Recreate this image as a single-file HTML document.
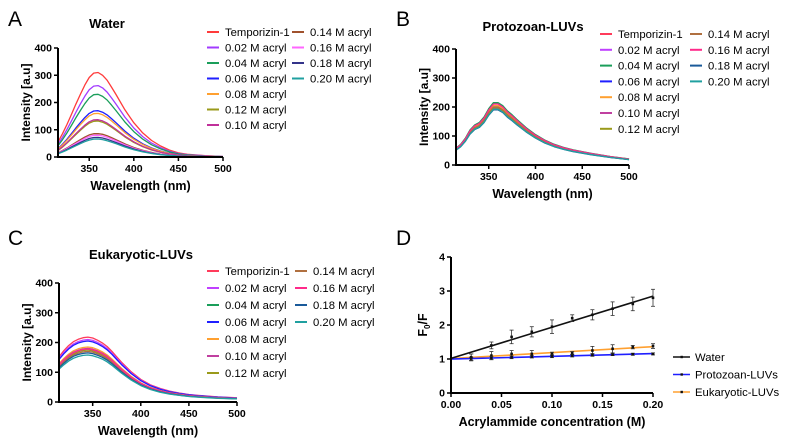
<!DOCTYPE html>
<html><head><meta charset="utf-8"><style>
body{margin:0;background:#fff;width:786px;height:446px;overflow:hidden}
svg{display:block;font-family:"Liberation Sans",Arial,sans-serif}
</style></head><body>
<svg id="s" width="786" height="446"></svg>
<script>
const wl=[315,320,325,330,335,340,345,350,355,360,365,370,375,380,390,400,410,420,430,440,450,460,480,500];
const shapeA=[55,85,118,155,192,228,262,290,306,308,298,280,255,228,172,125,88,60,40,25,15,10,5,2];
const shapeB=[55,68,88,115,132,140,158,185,205,205,195,178,165,150,123,100,82,68,58,50,44,38,28,20];
const shapeC=[150,170,187,200,208,213,215,212,205,196,184,168,150,132,100,75,57,45,36,30,25,22,17,14];
const names=["Temporizin-1","0.02 M acryl","0.04 M acryl","0.06 M acryl","0.08 M acryl","0.10 M acryl","0.12 M acryl","0.14 M acryl","0.16 M acryl","0.18 M acryl","0.20 M acryl"];
const namesA=["Temporizin-1","0.02 M acryl","0.04 M acryl","0.06 M acryl","0.08 M acryl","0.12 M acryl","0.10 M acryl","0.14 M acryl","0.16 M acryl","0.18 M acryl","0.20 M acryl"];
const colorsA=["#ff3b3b","#a23bff","#1a9e5a","#1f1fff","#ffa030","#9a9a1a","#c0309a","#a0522d","#ff66ff","#33338a","#20a0a0"];
const colorsB=["#ff3b5b","#c040ff","#1a9e5a","#1f1fff","#ffa030","#c040a0","#9a9a1a","#b07040","#ff2a8a","#1a5a9a","#20a0a0"];
const peaksA=[310,262,230,170,160,132,137,86,80,72,66];
const peaksB=[212,205,215,200,205,195,198,200,210,190,192];
const peaksC=[218,210,175,205,185,180,175,170,178,165,158];
const dX=[0.02,0.04,0.06,0.08,0.10,0.12,0.14,0.16,0.18,0.20];
const water=[1.05,1.4,1.65,1.8,1.95,2.2,2.3,2.48,2.62,2.8];
const waterErr=[0.1,0.1,0.2,0.15,0.2,0.1,0.15,0.2,0.2,0.25];
const proto=[1.0,1.03,1.05,1.07,1.08,1.1,1.12,1.13,1.14,1.15];
const protoErr=[0.05,0.05,0.04,0.04,0.04,0.04,0.04,0.03,0.03,0.03];
const euk=[1.05,1.1,1.15,1.15,1.15,1.17,1.25,1.3,1.35,1.38];
const eukErr=[0.1,0.12,0.1,0.1,0.05,0.05,0.12,0.12,0.05,0.07];

const S=document.getElementById('s');const NS="http://www.w3.org/2000/svg";
function el(t,a,txt){const e=document.createElementNS(NS,t);for(const k in a)e.setAttribute(k,a[k]);if(txt!==undefined)e.textContent=txt;S.appendChild(e);return e;}

function axes(P,xt,yt,xlab,ylab,fmtX,name){
  const g=P;
  let a=el('line',{x1:g.x0,y1:g.y0+1,x2:g.x0,y2:g.y1,stroke:'#000','stroke-width':2});
  
  a=el('line',{x1:g.x0-1,y1:g.y0,x2:g.x1,y2:g.y0,stroke:'#000','stroke-width':2});
  
  xt.forEach(v=>{const x=g.sx(v);el('line',{x1:x,y1:g.y0,x2:x,y2:g.y0+4,stroke:'#000','stroke-width':1.5});
    const t=el('text',{x:x,y:g.y0+15,'font-size':10.5,'font-weight':'bold','text-anchor':'middle'},fmtX(v));
    });
  yt.forEach(v=>{const y=g.sy(v);el('line',{x1:g.x0-4,y1:y,x2:g.x0,y2:y,stroke:'#000','stroke-width':1.5});
    const t=el('text',{x:g.x0-6,y:y+3.5,'font-size':10.5,'font-weight':'bold','text-anchor':'end'},String(v));
    });
  let t=el('text',{x:(g.x0+g.x1)/2,y:g.y0+33,'font-size':12.5,'font-weight':'bold','text-anchor':'middle'},xlab);
  
  t=el('text',{x:0,y:0,'font-size':12,'font-weight':'bold','text-anchor':'middle',transform:`translate(${g.x0-28},${(g.y0+g.y1)/2}) rotate(-90)`},ylab);
  
}
function spec(P,shape,peaks,colors,lnames,title,tx,ty,leg,name){
  const mx=Math.max(...shape);
  peaks.forEach((pk,i)=>{
    const pts=wl.map((w,j)=>P.sx(w).toFixed(1)+','+P.sy(shape[j]*pk/mx).toFixed(1)).join(' ');
    const p=el('polyline',{points:pts,fill:'none',stroke:colors[i],'stroke-width':1.3,'stroke-linejoin':'round'});
    
  });
  axes(P,[350,400,450,500],[0,100,200,300,400],'Wavelength (nm)','Intensity  [a.u]',v=>String(v),name);
  const t=el('text',{x:tx,y:ty,'font-size':13,'font-weight':'bold','text-anchor':'middle'},title);
  
  lnames.forEach((n,i)=>{
    const col=i<7?0:1,row=i<7?i:i-7;
    const x=leg.x+col*leg.dx,y=leg.y+row*leg.dy;
    el('line',{x1:x,y1:y,x2:x+12,y2:y,stroke:colors[i],'stroke-width':2});
    const e=el('text',{x:x+18,y:y+4,'font-size':11.3},n);
    
  });
}
function mk(x0,x1,y0,y1,xa,xb,ya,yb){return {x0,x1,y0,y1,sx:v=>x0+(v-xa)/(xb-xa)*(x1-x0),sy:v=>y0-(v-ya)/(yb-ya)*(y0-y1)};}

const A=mk(58,223,157,48,315,500,0,400);
spec(A,shapeA,peaksA,colorsA,namesA,'Water',107,28,{x:207,y:32,dx:85,dy:15.5},'panel-a');
const B=mk(456,629,165,49,315,500,0,400);
spec(B,shapeB,peaksB,colorsB,names,'Protozoan-LUVs',533,31,{x:600,y:34,dx:90,dy:15.8},'panel-b');
const C=mk(59,237,402,283,315,500,0,400);
spec(C,shapeC,peaksC,colorsB,names,'Eukaryotic-LUVs',141,259,{x:207,y:271,dx:88,dy:17},'panel-c');

[['A',8,26],['B',396,26],['C',8,245],['D',396,245]].forEach(([l,x,y])=>{
  const t=el('text',{x:x,y:y,'font-size':21},l);});

const D=mk(451,653,393,257,0,0.2,0,4);
function fit(ys){const n=dX.length;let sx=0,sy=0,sxx=0,sxy=0;dX.forEach((x,i)=>{sx+=x;sy+=ys[i];sxx+=x*x;sxy+=x*ys[i];});
  const b=(n*sxy-sx*sy)/(n*sxx-sx*sx);return [(sy-b*sx)/n,b];}
[[euk,eukErr,'#ffa030','eukaryotic'],[proto,protoErr,'#1f1fff','protozoan'],[water,waterErr,'#111','water']].forEach(([ys,er,c,n])=>{
  const [a,b]=fit(ys);
  const l=el('line',{x1:D.sx(0),y1:D.sy(a),x2:D.sx(0.2),y2:D.sy(a+b*0.2),stroke:c,'stroke-width':1.6});
  
  dX.forEach((x,i)=>{const X=D.sx(x);
    el('line',{x1:X,y1:D.sy(ys[i]-er[i]),x2:X,y2:D.sy(ys[i]+er[i]),stroke:'#333','stroke-width':0.8});
    el('line',{x1:X-2,y1:D.sy(ys[i]-er[i]),x2:X+2,y2:D.sy(ys[i]-er[i]),stroke:'#333','stroke-width':0.8});
    el('line',{x1:X-2,y1:D.sy(ys[i]+er[i]),x2:X+2,y2:D.sy(ys[i]+er[i]),stroke:'#333','stroke-width':0.8});
    const p=el('rect',{x:X-1.3,y:D.sy(ys[i])-1.3,width:2.6,height:2.6,fill:'#111'});
    
  });
});
axes(D,[0,0.05,0.1,0.15,0.2],[0,1,2,3,4],'Acrylammide concentration (M)','',v=>v.toFixed(2),'panel-d');
let ft=el('text',{x:0,y:0,'font-size':12.5,'font-weight':'bold','text-anchor':'middle',transform:`translate(${D.x0-24},${(D.y0+D.y1)/2}) rotate(-90)`});
ft.innerHTML='F<tspan font-size="8" dy="3">0</tspan><tspan dy="-3">/F</tspan>';

[['Water','#111'],['Protozoan-LUVs','#1f1fff'],['Eukaryotic-LUVs','#ffa030']].forEach(([n,c],i)=>{
  const y=357+i*17.5;
  el('line',{x1:673,y1:y,x2:690,y2:y,stroke:c,'stroke-width':1.6});
  el('rect',{x:680.5,y:y-1.2,width:2.4,height:2.4,fill:'#111'});
  const t=el('text',{x:695,y:y+4,'font-size':11.3},n);
  
});
</script>
</body></html>
